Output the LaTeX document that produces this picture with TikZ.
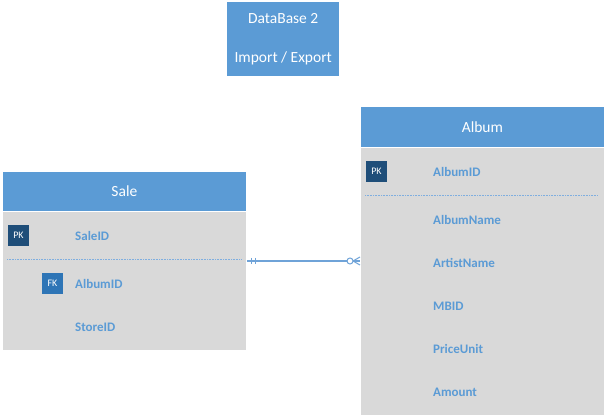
\documentclass[tikz,border=0pt]{standalone}
\usepackage{fontspec}
\setmainfont{Carlito}
\usetikzlibrary{calc}
\definecolor{hdrblue}{HTML}{5B9BD5}
\definecolor{bodygray}{HTML}{D9D9D9}
\definecolor{pkblue}{HTML}{1F4E79}
\definecolor{fkblue}{HTML}{2E75B6}
\definecolor{fieldblue}{HTML}{5B9BD5}
\definecolor{linkblue}{HTML}{6FA3D8}
\definecolor{dashblue}{HTML}{7FAEDF}
\tikzset{
  hdr/.style={fill=hdrblue, draw=white, line width=0.8pt, anchor=north west, inner sep=0pt,
    text=white, font=\fontsize{15.5}{18}\selectfont},
  tbody/.style={fill=bodygray, draw=white, line width=0.8pt, anchor=north west, inner sep=0pt},
  keybox/.style={draw=white!85!black, line width=1pt, minimum width=22pt, minimum height=22pt,
    inner sep=0pt, text=white, font=\fontsize{10}{11}\selectfont},
  pk/.style={keybox, fill=pkblue},
  fk/.style={keybox, fill=fkblue},
  field/.style={anchor=west, inner sep=0pt, text=fieldblue, font=\fontsize{13}{15}\selectfont\bfseries},
  sep/.style={draw=dashblue, line width=1pt, dash pattern=on 1pt off 0.6pt},
  link/.style={draw=linkblue, line width=1.4pt},
}
\begin{document}
\begin{tikzpicture}[x=1pt,y=-1pt]
\useasboundingbox[fill=white] (0,0) rectangle (606,417);

% top box
\node[fill=hdrblue, anchor=north west, minimum width=112pt, minimum height=74pt, inner sep=0pt,
  text=white, align=center, font=\fontsize{15.5}{39}\selectfont] (db) at (227,2) {DataBase 2\\Import / Export};

% Sale table
\node[hdr, minimum width=244pt, minimum height=40pt] (saleH) at (2,171) {Sale};
\node[tbody, minimum width=244pt, minimum height=139pt] (saleB) at (2,211) {};
\node[pk] (salePK) at (18.5,235.5) {PK};
\draw[sep] (7,260) -- (241,260);
\node[fk] (saleFK) at (52.5,283.5) {FK};
\node[field] (saleID) at (75,236) {SaleID};
\node[field] (saleAlb) at (75,284) {AlbumID};
\node[field] (saleStore) at (75,327) {StoreID};

% Album table
\node[hdr, minimum width=244pt, minimum height=41pt] (albH) at (360,106) {Album};
\node[tbody, minimum width=244pt, minimum height=268pt] (albB) at (360,147) {};
\node[pk] (albPK) at (376.5,171.5) {PK};
\draw[sep] (365,196) -- (598,196);
\node[field] (albID) at (433,172) {AlbumID};
\node[field] (albName) at (433,220) {AlbumName};
\node[field] (albArtist) at (433,263) {ArtistName};
\node[field] (albMBID) at (433,306) {MBID};
\node[field] (albPrice) at (433,349) {PriceUnit};
\node[field] (albAmount) at (433,392) {Amount};

% relationship
\coordinate (relL) at (saleB.east |- 0,261);
\coordinate (relR) at (albB.west |- 0,261);
\draw[link] (relL) -- (relR);
\draw[draw=linkblue, line width=1pt] ($(relL)+(5,-3)$) -- ++(0,6);
\draw[draw=linkblue, line width=1pt] ($(relL)+(9,-3)$) -- ++(0,6);
\draw[draw=linkblue, line width=1pt] ($(relR)+(-7,0)$) -- ($(relR)+(0,-4)$);
\draw[draw=linkblue, line width=1pt] ($(relR)+(-7,0)$) -- ($(relR)+(0,4)$);
\draw[draw=linkblue, line width=1pt, fill=white] ($(relR)+(-10,0)$) circle (3);
\end{tikzpicture}
\end{document}
